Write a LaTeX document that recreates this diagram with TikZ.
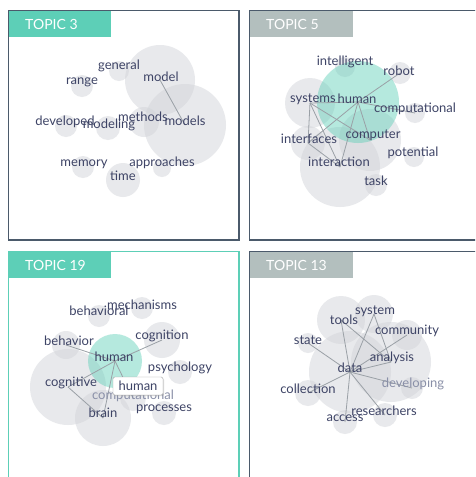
\documentclass[tikz,border=0pt]{standalone}
\usepackage{fontspec}
\setmainfont{Lato}
\usetikzlibrary{shadows}
\definecolor{tealc}{HTML}{5DCFB7}
\definecolor{grayhdr}{HTML}{B3BFBE}
\definecolor{framec}{HTML}{4B5A6B}
\definecolor{bubgray}{HTML}{D3D5DA}
\definecolor{wordc}{HTML}{3E4466}
\definecolor{fadec}{HTML}{8A90A8}
\definecolor{linec}{HTML}{9AA0A6}
\tikzset{
  bub/.style={circle, fill=bubgray, fill opacity=0.5, inner sep=0pt, draw=none},
  hubb/.style={circle, fill=tealc, fill opacity=0.45, inner sep=0pt, draw=none},
  word/.style={text=wordc, font=\fontsize{13}{13}\selectfont, inner sep=0pt},
  fword/.style={word, text=fadec},
  lnk/.style={draw=linec, line width=0.8pt},
  frame/.style={draw=framec, line width=1.1pt},
  tframe/.style={draw=tealc, line width=1.1pt},
  hdrtext/.style={text=white, font=\fontsize{14}{14}\selectfont, anchor=west, inner sep=0pt},
  tip/.style={draw=gray!70, fill=white, rounded corners=1.5pt, minimum width=50pt, minimum height=18pt, inner sep=0pt, text=wordc, font=\fontsize{13}{13}\selectfont, drop shadow={opacity=0.3, shadow xshift=1pt, shadow yshift=-1pt}}
}
\newcommand{\bubble}[4]{\node[#1, minimum size=#4pt] (#2) at (#3) {};}
\begin{document}
\begin{tikzpicture}[x=1pt,y=-1pt]
\useasboundingbox (0,0) rectangle (475,477);
\clip (0,0) rectangle (475,477);
\fill[white] (0,0) rectangle (475,477);

% ---------- frames and headers ----------
\draw[frame] (8.5,10.5) rectangle (239,240);
\draw[frame] (249.5,10.5) rectangle (485,240);
\draw[tframe] (8.5,251.5) rectangle (239,490);
\draw[frame] (249.5,251.5) rectangle (485,490);
\fill[tealc] (9,11) rectangle (111,37);
\fill[grayhdr] (250,11) rectangle (353,37);
\fill[tealc] (9,252) rectangle (111,278);
\fill[grayhdr] (250,252) rectangle (353,278);
\node[hdrtext] (h1) at (25,24) {TOPIC 3};
\node[hdrtext] (h2) at (266,24) {TOPIC 5};
\node[hdrtext] (h3) at (25,265) {TOPIC 19};
\node[hdrtext] (h4) at (266,265) {TOPIC 13};

% ---------- panel 1 : TOPIC 3 ----------
\bubble{bub}{a-general}{119,71}{20}
\bubble{bub}{a-model}{160,80}{70}
\bubble{bub}{a-range}{82,86}{22}
\bubble{bub}{a-developed}{66,126}{22}
\bubble{bub}{a-modeling}{108,128}{24}
\bubble{bub}{a-methods}{144,122}{30}
\bubble{bub}{a-models}{185,125}{82}
\bubble{bub}{a-memory}{83,167}{22}
\bubble{bub}{a-time}{123,180}{34}
\bubble{bub}{a-approaches}{162,168}{18}
\draw[lnk] (a-model.center) -- (a-models.center);
\node[word] at (119,66) {general};
\node[word] at (161,77) {model};
\node[word] at (82,82) {range};
\node[word] at (65,122) {developed};
\node[word] at (109,125) {modeling};
\node[word] at (143,117) {methods};
\node[word] at (185,121) {models};
\node[word] at (84,164) {memory};
\node[word] at (123,176) {time};
\node[word] at (162,163) {approaches};

% ---------- panel 2 : TOPIC 5 ----------
\bubble{bub}{b-intelligent}{345,67}{20}
\bubble{bub}{b-robot}{400,73}{22}
\bubble{bub}{b-systems}{310,103}{50}
\bubble{bub}{b-computational}{415,113}{20}
\bubble{bub}{b-interfaces}{308,143}{34}
\bubble{bub}{b-computer}{370,140}{62}
\bubble{bub}{b-interaction}{340,167}{80}
\bubble{bub}{b-potential}{414,157}{20}
\bubble{bub}{b-task}{376,185}{22}
\bubble{hubb}{b-human}{358,102}{82}
\draw[lnk] (b-systems.center) -- (b-human.center);
\draw[lnk] (b-systems.center) -- (b-interfaces.center);
\draw[lnk] (b-systems.center) -- (b-interaction.center);
\draw[lnk] (b-systems.center) -- (b-computer.center);
\draw[lnk] (b-human.center) -- (b-robot.center);
\draw[lnk] (b-human.center) -- (b-computational.center);
\draw[lnk] (b-human.center) -- (b-interfaces.center);
\draw[lnk] (b-human.center) -- (b-computer.center);
\draw[lnk] (b-human.center) -- (b-interaction.center);
\draw[lnk] (b-interfaces.center) -- (b-interaction.center);
\node[word] at (345,62) {intelligent};
\node[word] at (399,71) {robot};
\node[word] at (313,99) {systems};
\node[word] at (357,99) {human};
\node[word] at (415,109) {computational};
\node[word] at (309,139) {interfaces};
\node[word] at (373,135) {computer};
\node[word] at (339,162) {interaction};
\node[word] at (413,153) {potential};
\node[word] at (376,181) {task};

% ---------- panel 3 : TOPIC 19 ----------
\bubble{bub}{c-behavioral}{99,316}{22}
\bubble{bub}{c-mechanisms}{142,308}{22}
\bubble{bub}{c-behavior}{66,345}{28}
\bubble{bub}{c-cognition}{162,340}{36}
\bubble{bub}{c-psychology}{180,372}{24}
\bubble{bub}{c-cognitive}{68,387}{76}
\bubble{bub}{c-computational}{133,398}{26}
\bubble{bub}{c-brain}{103,418}{56}
\bubble{bub}{c-processes}{164,413}{24}
\bubble{hubb}{c-human}{115,361}{54}
\draw[lnk] (c-human.center) -- (c-behavior.center);
\draw[lnk] (c-human.center) -- (c-cognition.center);
\draw[lnk] (c-human.center) -- (c-cognitive.center);
\draw[lnk] (c-human.center) -- (c-brain.center);
\draw[lnk] (c-human.center) -- (c-computational.center);
\draw[lnk] (c-cognitive.center) -- (c-brain.center);
\node[word] at (99,311) {behavioral};
\node[word] at (142,305) {mechanisms};
\node[word] at (69,341) {behavior};
\node[word] at (162,336) {cognition};
\node[word] at (114,357) {human};
\node[word] at (180,368) {psychology};
\node[word] at (71,383) {cognitive};
\node[fword] at (133,396) {computational};
\node[word] at (103,413) {brain};
\node[word] at (164,409) {processes};
\node[tip] (tooltip) at (138,386) {human};

% ---------- panel 4 : TOPIC 13 ----------
\bubble{bub}{d-tools}{341,320}{48}
\bubble{bub}{d-system}{374,314}{38}
\bubble{bub}{d-community}{407,335}{30}
\bubble{bub}{d-state}{308,343}{20}
\bubble{bub}{d-analysis}{391,362}{80}
\bubble{bub}{d-data}{350,372}{82}
\bubble{bub}{d-collection}{308,393}{26}
\bubble{bub}{d-developing}{412,388}{22}
\bubble{bub}{d-researchers}{385,415}{24}
\bubble{bub}{d-access}{345,422}{24}
\draw[lnk] (d-data.center) -- (d-tools.center);
\draw[lnk] (d-data.center) -- (d-system.center);
\draw[lnk] (d-data.center) -- (d-state.center);
\draw[lnk] (d-data.center) -- (d-community.center);
\draw[lnk] (d-data.center) -- (d-analysis.center);
\draw[lnk] (d-data.center) -- (d-developing.center);
\draw[lnk] (d-data.center) -- (d-collection.center);
\draw[lnk] (d-data.center) -- (d-access.center);
\draw[lnk] (d-data.center) -- (d-researchers.center);
\draw[lnk] (d-tools.center) -- (d-analysis.center);
\draw[lnk] (d-system.center) -- (d-analysis.center);
\node[word] at (375,311) {system};
\node[word] at (344,320) {tools};
\node[word] at (407,331) {community};
\node[word] at (308,340) {state};
\node[word] at (392,358) {analysis};
\node[word] at (350,368) {data};
\node[word] at (308,389) {collection};
\node[fword] at (413,384) {developing};
\node[word] at (384,411) {researchers};
\node[word] at (345,418) {access};
\end{tikzpicture}
\end{document}
